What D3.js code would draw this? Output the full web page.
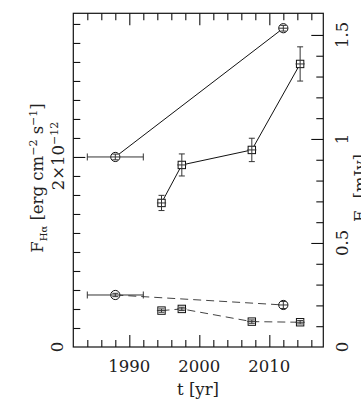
<!DOCTYPE html>
<html>
<head>
<meta charset="utf-8">
<script src="https://cdn.jsdelivr.net/npm/d3@7"></script>
<style>
  body { margin: 0; background: #fff; }
  svg text { font-family: "DejaVu Serif", serif; fill: #222; }
</style>
</head>
<body>
<div id="chart"></div>
<script>
// H-alpha flux (units of 1e-12 erg cm^-2 s^-1), left axis
const haCircleYears = [1988, 2012];
const haCircleVals = [2.0, 3.355];
const haCircleYErr = [0.03, 0.03];
const haCircleXErr = [4, 0];
const haSquareYears = [1994.6, 1997.5, 2007.5, 2014.4];
const haSquareVals = [1.516, 1.916, 2.074, 2.979];
const haSquareErr = [0.08, 0.116, 0.123, 0.18];

// radio flux density (mJy), right axis
const fnCircleYears = [1988, 2012];
const fnCircleVals = [0.25, 0.202];
const fnCircleYErr = [0.008, 0.017];
const fnCircleXErr = [4, 0];
const fnSquareYears = [1994.6, 1997.5, 2007.5, 2014.4];
const fnSquareVals = [0.175, 0.183, 0.122, 0.119];
const fnSquareErr = [0.008, 0.008, 0.008, 0.008];

const xMajor = [1990, 2000, 2010];
const leftLabels = [0, 2];
const rightLabels = [0, 0.5, 1, 1.5];

const width = 361, height = 403;
const plot = { left: 73.3, right: 323.3, top: 13.3, bottom: 347 };

const svg = d3.select("#chart").append("svg")
    .attr("width", width)
    .attr("height", height);

const x = d3.scaleLinear().domain([1982, 2017.71]).range([plot.left, plot.right]);
const yL = d3.scaleLinear().domain([0, 3.512]).range([plot.bottom, plot.top]);
const yR = d3.scaleLinear().domain([0, 1.604]).range([plot.bottom, plot.top]);

/* frame */
svg.append("rect")
    .attr("x", plot.left).attr("y", plot.top)
    .attr("width", plot.right - plot.left).attr("height", plot.bottom - plot.top)
    .attr("fill", "none").attr("stroke", "#111").attr("stroke-width", 1.2);

const xMinor = d3.range(1984, 2018, 2).filter(d => !xMajor.includes(d));

function tickAxis(axisFn, scale, ticks, size, tx, ty) {
    svg.append("g")
        .attr("transform", `translate(${tx}, ${ty})`)
        .call(axisFn(scale).tickValues(ticks).tickSize(size).tickFormat(""))
        .call(g => g.select(".domain").remove())
        .selectAll("line").attr("stroke", "#111").attr("stroke-width", 1.1);
}

/* X axes (bottom + top), ticks inward */
tickAxis(d3.axisBottom, x, xMinor, -7, 0, plot.bottom);
tickAxis(d3.axisBottom, x, xMajor, -12, 0, plot.bottom);
tickAxis(d3.axisTop, x, xMinor, -7, 0, plot.top);
tickAxis(d3.axisTop, x, xMajor, -12, 0, plot.top);

svg.selectAll(".xlab")
    .data(xMajor)
    .enter()
    .append("text")
    .attr("x", d => x(d))
    .attr("y", 371.5)
    .attr("text-anchor", "middle")
    .attr("font-size", 16.5)
    .text(d => d);

svg.append("text")
    .attr("x", 198)
    .attr("y", 395)
    .attr("text-anchor", "middle")
    .attr("font-size", 16.5)
    .text("t  [yr]");

/* left axis */
const leftMinor = d3.range(0.2, 3.5, 0.2).map(d => +d.toFixed(1)).filter(d => d !== 2);
tickAxis(d3.axisLeft, yL, leftMinor, -7, plot.left, 0);
tickAxis(d3.axisLeft, yL, [2], -12, plot.left, 0);

svg.append("text")
    .attr("transform", `translate(63, ${yL(0)}) rotate(-90)`)
    .attr("text-anchor", "middle")
    .attr("font-size", 16.5)
    .text("0");

const lab2 = svg.append("text")
    .attr("transform", `translate(64, ${yL(2) - 1}) rotate(-90)`)
    .attr("text-anchor", "middle")
    .attr("font-size", 16.5);
lab2.append("tspan").text("2×10");
lab2.append("tspan").attr("dy", -6).attr("font-size", 11).text("−12");

const ltitle = svg.append("text")
    .attr("transform", `translate(43, 178) rotate(-90)`)
    .attr("text-anchor", "middle")
    .attr("font-size", 16.5);
ltitle.append("tspan").text("F");
ltitle.append("tspan").attr("dy", 4).attr("font-size", 10).text("Hα");
ltitle.append("tspan").attr("dy", -4).text(" [erg cm");
ltitle.append("tspan").attr("dy", -6).attr("font-size", 11).text("−2");
ltitle.append("tspan").attr("dy", 6).text(" s");
ltitle.append("tspan").attr("dy", -6).attr("font-size", 11).text("−1");
ltitle.append("tspan").attr("dy", 6).text("]");

/* right axis */
const rightMinor = d3.range(0.1, 1.6, 0.1).map(d => +d.toFixed(1)).filter(d => !rightLabels.includes(d));
tickAxis(d3.axisRight, yR, rightMinor, -7, plot.right, 0);
tickAxis(d3.axisRight, yR, rightLabels.filter(d => d > 0), -12, plot.right, 0);

svg.selectAll(".rlab")
    .data(rightLabels)
    .enter()
    .append("text")
    .attr("transform", d => `translate(348, ${yR(d)}) rotate(-90)`)
    .attr("text-anchor", "middle")
    .attr("font-size", 16.5)
    .text(d => d);

const rtitle = svg.append("text")
    .attr("transform", `translate(366, 188) rotate(-90)`)
    .attr("text-anchor", "middle")
    .attr("font-size", 16.5);
rtitle.append("tspan").text("F");
rtitle.append("tspan").attr("dy", 4).attr("font-size", 11).text("ν");
rtitle.append("tspan").attr("dy", -4).text(" [mJy]");

/* series */
function series(years, vals, yerr, xerr, yScale, shape, dashed) {
    const pts = years.map((t, i) => ({ t, v: vals[i], e: yerr[i], xe: xerr ? xerr[i] : 0 }));

    svg.append("path")
        .datum(pts)
        .attr("d", d3.line().x(d => x(d.t)).y(d => yScale(d.v)))
        .attr("fill", "none")
        .attr("stroke", dashed ? "#444" : "#111")
        .attr("stroke-width", 1)
        .attr("stroke-dasharray", dashed ? "8,5" : null);

    const g = svg.append("g");
    if (shape === "circle") {
        g.selectAll("circle").data(pts).enter().append("circle")
            .attr("cx", d => x(d.t)).attr("cy", d => yScale(d.v)).attr("r", 4.6)
            .attr("fill", "#fff").attr("stroke", "#111").attr("stroke-width", 1);
    } else {
        g.selectAll("rect").data(pts).enter().append("rect")
            .attr("x", d => x(d.t) - 3.7).attr("y", d => yScale(d.v) - 3.7)
            .attr("width", 7.4).attr("height", 7.4)
            .attr("fill", "#fff").attr("stroke", "#111").attr("stroke-width", 1);
    }

    const eb = svg.append("g").attr("stroke", "#333").attr("stroke-width", 1);
    pts.forEach(d => {
        const cx = x(d.t), y0 = yScale(d.v - d.e), y1 = yScale(d.v + d.e);
        eb.append("line").attr("x1", cx).attr("x2", cx).attr("y1", y0).attr("y2", y1);
        eb.append("line").attr("x1", cx - 3).attr("x2", cx + 3).attr("y1", y0).attr("y2", y0);
        eb.append("line").attr("x1", cx - 3).attr("x2", cx + 3).attr("y1", y1).attr("y2", y1);
        if (d.xe > 0) {
            const cy = yScale(d.v), x0 = x(d.t - d.xe), x1 = x(d.t + d.xe);
            eb.append("line").attr("x1", x0).attr("x2", x1).attr("y1", cy).attr("y2", cy);
            eb.append("line").attr("x1", x0).attr("x2", x0).attr("y1", cy - 3.5).attr("y2", cy + 3.5);
            eb.append("line").attr("x1", x1).attr("x2", x1).attr("y1", cy - 3.5).attr("y2", cy + 3.5);
        } else {
            const cy = yScale(d.v);
            eb.append("line").attr("x1", cx - 4.6).attr("x2", cx + 4.6).attr("y1", cy).attr("y2", cy);
        }
    });
}

series(haCircleYears, haCircleVals, haCircleYErr, haCircleXErr, yL, "circle", false);
series(haSquareYears, haSquareVals, haSquareErr, null, yL, "square", false);
series(fnCircleYears, fnCircleVals, fnCircleYErr, fnCircleXErr, yR, "circle", true);
series(fnSquareYears, fnSquareVals, fnSquareErr, null, yR, "square", true);
</script>
</body>
</html>
